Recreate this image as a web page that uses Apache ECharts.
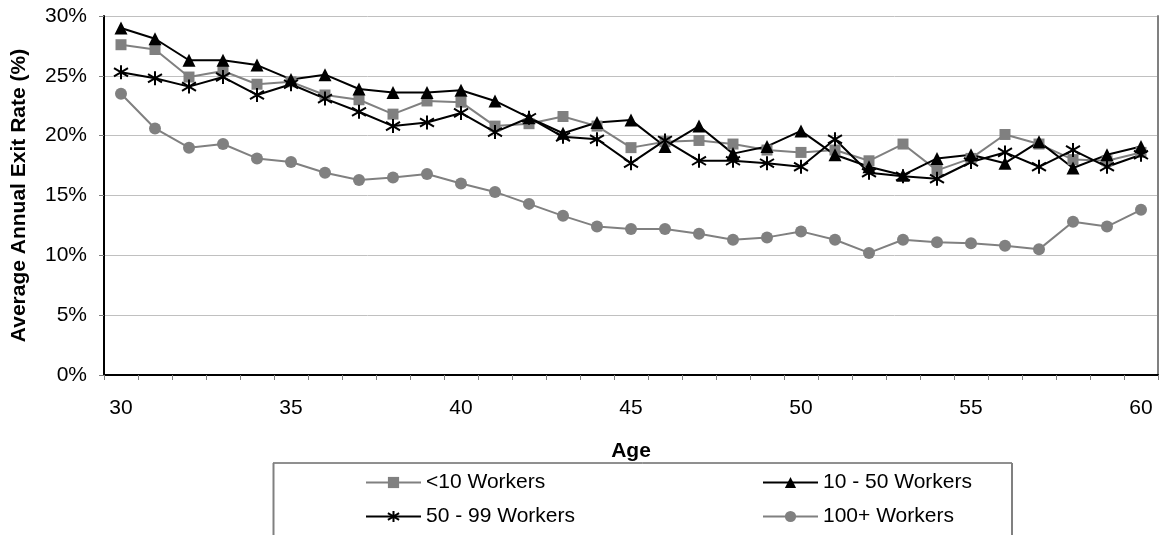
<!DOCTYPE html>
<html>
<head>
<meta charset="utf-8">
<script src="https://cdn.jsdelivr.net/npm/echarts@6/dist/echarts.min.js"></script>
<style>
  html, body { margin: 0; padding: 0; background: #ffffff; }
  #chart { width: 1161px; height: 535px; }
</style>
</head>
<body>
<div id="chart"></div>
<script>
// Ages on the horizontal axis
const ages = ['30','31','32','33','34','35','36','37','38','39','40',
              '41','42','43','44','45','46','47','48','49','50',
              '51','52','53','54','55','56','57','58','59','60'];

// Average annual exit rate (%) by firm size
const under10 = [27.6, 27.2, 24.9, 25.4, 24.3, 24.5, 23.4, 23.0, 21.8, 22.9, 22.8,
                 20.8, 21.0, 21.6, 20.8, 19.0, 19.5, 19.6, 19.3, 18.8, 18.6,
                 18.8, 17.9, 19.3, 17.1, 18.1, 20.1, 19.3, 18.0, 17.9, 18.6];
const from10to50 = [29.0, 28.1, 26.3, 26.3, 25.9, 24.7, 25.1, 23.9, 23.6, 23.6, 23.8,
                    22.9, 21.5, 20.2, 21.1, 21.3, 19.1, 20.8, 18.5, 19.1, 20.4,
                    18.4, 17.4, 16.7, 18.1, 18.4, 17.7, 19.5, 17.3, 18.4, 19.1];
const from50to99 = [25.3, 24.8, 24.1, 24.9, 23.4, 24.3, 23.1, 22.0, 20.8, 21.1, 21.9,
                    20.3, 21.5, 19.9, 19.7, 17.7, 19.6, 17.9, 17.9, 17.7, 17.4,
                    19.7, 16.9, 16.6, 16.4, 17.8, 18.6, 17.4, 18.8, 17.4, 18.4];
const over100 = [23.5, 20.6, 19.0, 19.3, 18.1, 17.8, 16.9, 16.3, 16.5, 16.8, 16.0,
                 15.3, 14.3, 13.3, 12.4, 12.2, 12.2, 11.8, 11.3, 11.5, 12.0,
                 11.3, 10.2, 11.3, 11.1, 11.0, 10.8, 10.5, 12.8, 12.4, 13.8];

const seriesNames = ['<10 Workers', '10 - 50 Workers', '50 - 99 Workers', '100+ Workers'];
const yTicks = { min: 0, max: 30, step: 5 };

const FONT = '"Liberation Sans", Arial, sans-serif';
const GRAY = '#808080';
const BLACK = '#000000';
// six-armed asterisk marker (vertical stroke plus two diagonals)
const ASTERISK = 'path://M5,0L5,10M0.6,2L9.4,8M0.6,8L9.4,2';

const chart = echarts.init(document.getElementById('chart'), null, { renderer: 'canvas' });

function lineSeries(name, data, color, symbol, size, extraItem) {
  return {
    name: name,
    type: 'line',
    data: data,
    xAxisIndex: 0,
    yAxisIndex: 0,
    symbol: symbol,
    symbolSize: size,
    showAllSymbol: true,
    lineStyle: { color: color, width: 2 },
    itemStyle: Object.assign({ color: color, borderColor: color, borderWidth: 0 }, extraItem || {}),
    emphasis: { disabled: true },
    animation: false
  };
}

function legendAt(name, left, top) {
  return {
    data: [name],
    left: left,
    top: top,
    padding: 0,
    itemWidth: 55,
    itemHeight: 14,
    selectedMode: false,
    textStyle: { fontFamily: FONT, fontSize: 21, color: BLACK }
  };
}

const option = {
  backgroundColor: '#ffffff',
  animation: false,
  grid: { left: 104, right: 3, top: 16, bottom: 160, containLabel: false },
  xAxis: [
    {
      type: 'category',
      data: ages,
      boundaryGap: true,
      axisLine: { lineStyle: { color: BLACK, width: 2 } },
      axisTick: { show: true, interval: 0, length: 5, lineStyle: { color: GRAY, width: 1 } },
      axisLabel: { interval: 4, margin: 23, fontFamily: FONT, fontSize: 21, color: BLACK },
      splitLine: { show: false },
      name: 'Age',
      nameLocation: 'middle',
      nameGap: 66,
      nameTextStyle: { fontFamily: FONT, fontSize: 21, fontWeight: 'bold', color: BLACK }
    },
    {
      type: 'category',
      data: ages,
      position: 'top',
      axisLine: { lineStyle: { color: BLACK, width: 1 } },
      axisTick: { show: false },
      axisLabel: { show: false },
      splitLine: { show: false }
    }
  ],
  yAxis: [
    {
      type: 'value',
      min: yTicks.min,
      max: yTicks.max,
      interval: yTicks.step,
      axisLine: { show: true, lineStyle: { color: BLACK, width: 2 } },
      axisTick: { show: true, length: 5, lineStyle: { color: GRAY, width: 1 } },
      axisLabel: { formatter: '{value}%', margin: 17, fontFamily: FONT, fontSize: 21, color: BLACK },
      splitLine: { show: true, lineStyle: { color: '#c0c0c0', width: 1 } },
      name: 'Average Annual Exit Rate (%)',
      nameLocation: 'middle',
      nameGap: 74,
      nameRotate: 90,
      nameTextStyle: { fontFamily: FONT, fontSize: 21, fontWeight: 'bold', color: BLACK }
    },
    {
      type: 'value',
      position: 'right',
      min: yTicks.min,
      max: yTicks.max,
      interval: yTicks.step,
      axisLine: { show: true, lineStyle: { color: GRAY, width: 2 } },
      axisTick: { show: false },
      axisLabel: { show: false },
      splitLine: { show: false }
    }
  ],
  legend: [
    legendAt(seriesNames[0], 365, 472),
    legendAt(seriesNames[1], 762, 472),
    legendAt(seriesNames[2], 365, 506),
    legendAt(seriesNames[3], 762, 506)
  ],
  graphic: [
    {
      type: 'group',
      silent: true,
      children: [
        { type: 'line', shape: { x1: 273, y1: 463, x2: 1012, y2: 463 }, style: { stroke: '#202020', lineWidth: 1 } },
        { type: 'line', shape: { x1: 273.5, y1: 463, x2: 273.5, y2: 540 }, style: { stroke: GRAY, lineWidth: 2 } },
        { type: 'line', shape: { x1: 1012, y1: 463, x2: 1012, y2: 540 }, style: { stroke: GRAY, lineWidth: 2 } }
      ]
    }
  ],
  series: [
    lineSeries(seriesNames[0], under10, GRAY, 'rect', 11),
    lineSeries(seriesNames[1], from10to50, BLACK, 'triangle', 13),
    lineSeries(seriesNames[2], from50to99, BLACK, ASTERISK, 14, { borderWidth: 2 }),
    lineSeries(seriesNames[3], over100, GRAY, 'circle', 12)
  ]
};

chart.setOption(option);
</script>
</body>
</html>
